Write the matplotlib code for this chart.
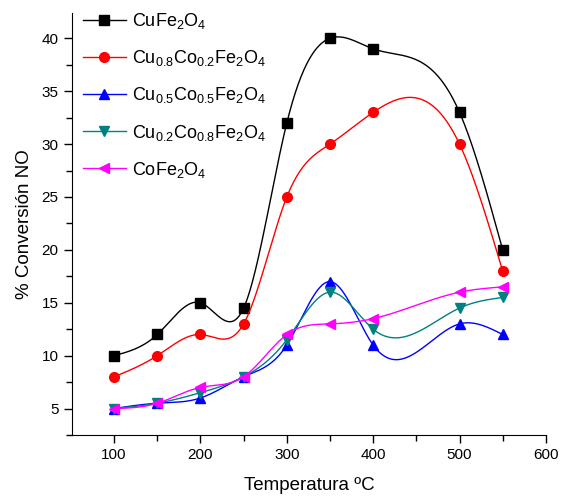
import numpy as np
import matplotlib
matplotlib.use("Agg")
import matplotlib.pyplot as plt
from matplotlib.ticker import MultipleLocator

plt.rcParams['font.family'] = ['Liberation Sans', 'DejaVu Sans']
plt.rcParams['mathtext.fontset'] = 'custom'
plt.rcParams['mathtext.rm'] = 'Liberation Sans'
plt.rcParams['mathtext.it'] = 'Liberation Sans'

temperatura = [100, 150, 200, 250, 300, 350, 400, 500, 550]
cufe = [10, 12, 15, 14.5, 32, 40, 39, 33, 20]
cu08co02 = [8, 10, 12, 13, 25, 30, 33, 30, 18]
cu05co05 = [5, 5.5, 6, 8, 11, 17, 11, 13, 12]
cu02co08 = [5, 5.5, 6.5, 8, 11.5, 16, 12.5, 14.5, 15.5]
cofe = [5, 5.5, 7, 8, 12, 13, 13.5, 16, 16.5]

labels = [r'CuFe$\mathregular{_2}$O$\mathregular{_4}$',
          r'Cu$\mathregular{_{0.8}}$Co$\mathregular{_{0.2}}$Fe$\mathregular{_2}$O$\mathregular{_4}$',
          r'Cu$\mathregular{_{0.5}}$Co$\mathregular{_{0.5}}$Fe$\mathregular{_2}$O$\mathregular{_4}$',
          r'Cu$\mathregular{_{0.2}}$Co$\mathregular{_{0.8}}$Fe$\mathregular{_2}$O$\mathregular{_4}$',
          r'CoFe$\mathregular{_2}$O$\mathregular{_4}$']


def spline(x, y, n=400):
    # natural cubic spline through the points
    x = np.asarray(x, float)
    y = np.asarray(y, float)
    k = len(x)
    h = np.diff(x)
    A = np.zeros((k, k))
    b = np.zeros(k)
    A[0, 0] = 1
    A[-1, -1] = 1
    for i in range(1, k - 1):
        A[i, i - 1] = h[i - 1]
        A[i, i] = 2 * (h[i - 1] + h[i])
        A[i, i + 1] = h[i]
        b[i] = 3 * ((y[i + 1] - y[i]) / h[i] - (y[i] - y[i - 1]) / h[i - 1])
    c = np.linalg.solve(A, b)
    xs = np.linspace(x[0], x[-1], n)
    ys = np.zeros(n)
    for j, xv in enumerate(xs):
        i = min(np.searchsorted(x, xv, side='right') - 1, k - 2)
        d = xv - x[i]
        bi = (y[i + 1] - y[i]) / h[i] - h[i] * (2 * c[i] + c[i + 1]) / 3
        di = (c[i + 1] - c[i]) / (3 * h[i])
        ys[j] = y[i] + bi * d + c[i] * d ** 2 + di * d ** 3
    return xs, ys


series = [cufe, cu08co02, cu05co05, cu02co08, cofe]
colors = ['black', 'red', 'blue', '#008080', 'magenta']
markers = ['s', 'o', '^', 'v', '<']

fig = plt.figure(figsize=(5.61, 4.96), dpi=100)
ax = fig.add_axes([0.128, 0.123, 0.845, 0.851])

for s, c, m, lab in zip(series, colors, markers, labels):
    xs, ys = spline(temperatura, s)
    ax.plot(xs, ys, color=c, lw=1)
    ax.plot(temperatura, s, ls='none', marker=m, color=c, ms=7)
    ax.plot([], [], color=c, lw=1, marker=m, ms=7, label=lab)

ax.set_xlim(51, 600)
ax.set_ylim(2.5, 42.4)
ax.xaxis.set_minor_locator(MultipleLocator(50))
ax.yaxis.set_minor_locator(MultipleLocator(2.5))
ax.set_yticks([5, 10, 15, 20, 25, 30, 35, 40])
ax.set_xticks([100, 200, 300, 400, 500, 600])
ax.spines['top'].set_visible(False)
ax.spines['right'].set_visible(False)
ax.tick_params(which='major', direction='out', length=6, width=1, labelsize=11)
ax.tick_params(which='minor', direction='out', length=4, width=1)

ax.set_xlabel('Temperatura ºC', fontsize=13.5, labelpad=11)
ax.set_ylabel('% Conversión NO', fontsize=13.5, labelpad=6)

ax.legend(loc='upper left', bbox_to_anchor=(0.0, 1.03), frameon=False,
          fontsize=13, handlelength=2.4, handletextpad=0.35, labelspacing=0.95,
          borderaxespad=0.2)

fig.savefig('out.png', dpi=100)
